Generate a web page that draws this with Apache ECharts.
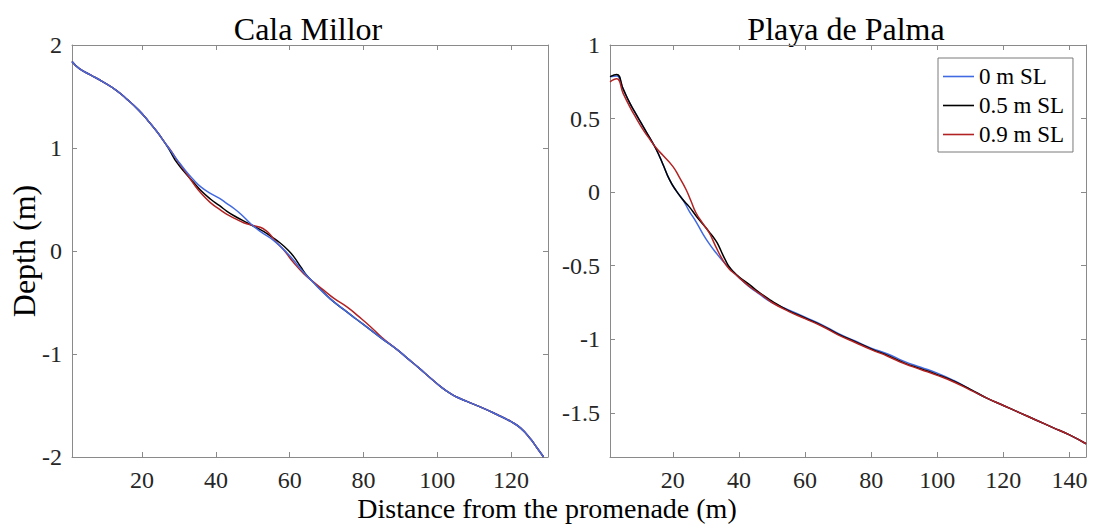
<!DOCTYPE html>
<html>
<head>
<meta charset="utf-8">
<script src="https://cdn.jsdelivr.net/npm/echarts@6/dist/echarts.min.js"></script>
<style>
html,body{margin:0;padding:0;background:#fff;}
#chart{width:1094px;height:530px;}
</style>
</head>
<body>
<div id="chart"></div>
<script>
// ---------- DATA ----------
const titles = ['Cala Millor', 'Playa de Palma'];
const seriesNames = ['0 m SL', '0.5 m SL', '0.9 m SL'];
const xLabel = 'Distance from the promenade (m)';
const yLabel = 'Depth (m)';

// Cala Millor
const cmX0 = [1,3,6,9.5,13,16,19,21.5,24,26,28,29.5,32,34,36,38.5,41,43,45,47,49.3,52,55.7,59.3,62,64,66.4,68.3,71,74.7,78,81.9,85,89.2,92,95,98.2,101,103.6,106,108,112.7,116,119.9,122.6,125.4,127,128.8];
const cmY0 = [1.84,1.77,1.71,1.64,1.56,1.47,1.37,1.27,1.16,1.06,0.96,0.885,0.77,0.69,0.62,0.56,0.51,0.46,0.41,0.35,0.27,0.19,0.10,-0.02,-0.13,-0.215,-0.305,-0.375,-0.465,-0.57,-0.66,-0.765,-0.85,-0.96,-1.045,-1.135,-1.235,-1.32,-1.385,-1.43,-1.46,-1.53,-1.585,-1.655,-1.72,-1.83,-1.91,-2.0];
const cmX1 = [1,3,6,9.5,13,16,19,21.5,24,26,27.5,29.4,32,34,36,38.5,41,43,45.5,48.4,50,52.9,55,57.5,59.5,61.1,63,64.7,66.5,68.3,71,74.7,78,81.9,85,89.2,92,95,98.2,101,103.6,106,108,112.7,116,119.9,122.6,125.4,127,128.8];
const cmY1 = [1.84,1.77,1.71,1.64,1.56,1.47,1.37,1.27,1.16,1.06,0.975,0.86,0.745,0.665,0.585,0.505,0.44,0.385,0.33,0.275,0.245,0.19,0.14,0.075,0.01,-0.055,-0.155,-0.24,-0.305,-0.37,-0.465,-0.57,-0.66,-0.765,-0.85,-0.96,-1.045,-1.135,-1.235,-1.32,-1.385,-1.43,-1.46,-1.53,-1.585,-1.655,-1.72,-1.83,-1.91,-2.0];
const cmX2 = [1,3,6,9.5,13,16,19,21.5,24,26,28,29.5,32,34,36,38.5,41,43,45.5,47.5,50,52,53.5,54.8,56.5,58.4,61,63.8,66.4,69.2,72,75.6,78.5,81.9,85,89.2,92,95,98.2,101,103.6,106,108,112.7,116,119.9,122.6,125.4,127,128.8];
const cmY2 = [1.84,1.77,1.71,1.64,1.56,1.47,1.37,1.27,1.16,1.06,0.965,0.88,0.755,0.65,0.56,0.47,0.405,0.355,0.31,0.275,0.248,0.23,0.20,0.155,0.08,0.01,-0.11,-0.22,-0.30,-0.38,-0.46,-0.545,-0.63,-0.735,-0.84,-0.96,-1.045,-1.135,-1.235,-1.32,-1.385,-1.43,-1.46,-1.53,-1.585,-1.655,-1.72,-1.83,-1.91,-2.0];

// Playa de Palma
const ppX0 = [1,3,5,7,9,11,13,15,17,19,21,23,25,27,29,31,33,35,37,40,43,46,50,55,60,65,70,75,80,85,90,95,100,105,110,115,120,125,130,135,140,145];
const ppY0 = [0.785,0.79,0.70,0.605,0.525,0.447,0.37,0.29,0.19,0.085,0.01,-0.05,-0.13,-0.20,-0.28,-0.35,-0.41,-0.465,-0.51,-0.58,-0.64,-0.69,-0.75,-0.80,-0.85,-0.90,-0.96,-1.01,-1.06,-1.10,-1.15,-1.19,-1.23,-1.28,-1.34,-1.40,-1.45,-1.50,-1.55,-1.60,-1.65,-1.71];
const ppX1 = [1,3,5,7,9,11,13,15,17,19,21,23,25,27,29,31,33,34,35,36,37,38.5,40,43,46,50,55,60,65,70,75,80,85,90,95,100,105,110,115,120,125,130,135,140,145];
const ppY1 = [0.785,0.80,0.70,0.605,0.525,0.447,0.37,0.29,0.19,0.085,0.01,-0.05,-0.10,-0.16,-0.215,-0.27,-0.33,-0.37,-0.42,-0.465,-0.505,-0.545,-0.575,-0.625,-0.68,-0.74,-0.805,-0.855,-0.905,-0.965,-1.015,-1.065,-1.11,-1.16,-1.20,-1.24,-1.285,-1.34,-1.40,-1.45,-1.50,-1.55,-1.60,-1.65,-1.71];
const ppX2 = [1,3,5,7,9,11,13,15,17,20,22,24,25.5,27,29,31,33,35,37,39,41,44,47,50,55,60,65,70,75,80,85,90,95,100,105,110,115,120,125,130,135,140,145];
const ppY2 = [0.75,0.77,0.67,0.58,0.50,0.425,0.36,0.30,0.25,0.175,0.10,0.018,-0.06,-0.14,-0.21,-0.276,-0.37,-0.457,-0.52,-0.56,-0.60,-0.655,-0.70,-0.75,-0.81,-0.86,-0.91,-0.97,-1.02,-1.07,-1.115,-1.165,-1.205,-1.245,-1.29,-1.345,-1.40,-1.45,-1.50,-1.55,-1.60,-1.65,-1.71];

// axis ranges and ticks
const cmXRange = [1, 130];
const ppXRange = [1, 145];
const cmYRange = [-2, 2];
const ppYRange = [-1.8, 1];
const cmXTicks = [20,40,60,80,100,120];
const ppXTicks = [20,40,60,80,100,120,140];
const cmYTicks = [-2,-1,0,1,2];
const ppYTicks = [-1.5,-1,-0.5,0,0.5,1];

// ---------- STYLE ----------
const FONT = '"Liberation Serif", "DejaVu Serif", serif';
const colors = ['#4169e1', '#000000', '#b22222'];
const axisColor = '#8a8a8a';

const zip = (xs, ys) => xs.map((x, i) => [x, ys[i]]);

function xAx(grid, range, ticks, pos, showLabel) {
  return {
    type: 'value', gridIndex: grid, position: pos, min: range[0], max: range[1],
    axisLine: { show: true, onZero: false, lineStyle: { color: axisColor, width: 1 } },
    axisTick: { show: true, inside: true, length: 5, customValues: ticks, lineStyle: { color: axisColor } },
    axisLabel: { show: showLabel, customValues: ticks, margin: 11, color: '#262626', fontFamily: FONT, fontSize: 24 },
    splitLine: { show: false }
  };
}
function yAx(grid, range, ticks, pos, showLabel) {
  return {
    type: 'value', gridIndex: grid, position: pos, min: range[0], max: range[1],
    axisLine: { show: true, onZero: false, lineStyle: { color: axisColor, width: 1 } },
    axisTick: { show: true, inside: true, length: 5, customValues: ticks, lineStyle: { color: axisColor } },
    axisLabel: { show: showLabel, customValues: ticks, margin: 10, color: '#262626', fontFamily: FONT, fontSize: 24 },
    splitLine: { show: false }
  };
}
function line(name, data, xi, yi, color, z) {
  return {
    type: 'line', name: name, data: data, xAxisIndex: xi, yAxisIndex: yi,
    showSymbol: false, symbol: 'none', smooth: 0.5,
    lineStyle: { color: color, width: 1.5 }, itemStyle: { color: color },
    z: z, silent: true
  };
}

const chart = echarts.init(document.getElementById('chart'), null, { renderer: 'svg' });
chart.setOption({
  animation: false,
  backgroundColor: '#ffffff',
  grid: [
    { left: 72, top: 45, width: 476, height: 412 },
    { left: 610, top: 45, width: 476, height: 412 }
  ],
  xAxis: [
    xAx(0, cmXRange, cmXTicks, 'bottom', true),
    xAx(1, ppXRange, ppXTicks, 'bottom', true),
    xAx(0, cmXRange, cmXTicks, 'top', false),
    xAx(1, ppXRange, ppXTicks, 'top', false)
  ],
  yAxis: [
    yAx(0, cmYRange, cmYTicks, 'left', true),
    yAx(1, ppYRange, ppYTicks, 'left', true),
    yAx(0, cmYRange, cmYTicks, 'right', false),
    yAx(1, ppYRange, ppYTicks, 'right', false)
  ],
  legend: {
    data: seriesNames,
    orient: 'vertical',
    left: 938, top: 58,
    padding: [7, 9, 6, 5],
    itemGap: 6,
    itemWidth: 31, itemHeight: 1.6,
    icon: 'rect',
    backgroundColor: '#ffffff',
    borderColor: '#7a7a7a', borderWidth: 1, borderRadius: 0,
    textStyle: { fontFamily: FONT, fontSize: 23, color: '#000' },
    selectedMode: false
  },
  graphic: [
    { type: 'text', x: 308, y: 29, style: { text: titles[0], font: '32px ' + FONT, fill: '#000', textAlign: 'center', textVerticalAlign: 'middle' } },
    { type: 'text', x: 846, y: 29, style: { text: titles[1], font: '32px ' + FONT, fill: '#000', textAlign: 'center', textVerticalAlign: 'middle' } },
    { type: 'text', x: 547, y: 508, style: { text: xLabel, font: '28px ' + FONT, fill: '#000', textAlign: 'center', textVerticalAlign: 'middle' } },
    { type: 'text', x: 24, y: 251, rotation: Math.PI / 2, style: { text: yLabel, font: '32px ' + FONT, fill: '#000', textAlign: 'center', textVerticalAlign: 'middle' } }
  ],
  series: [
    line(seriesNames[1], zip(cmX1, cmY1), 0, 0, colors[1], 2),
    line(seriesNames[2], zip(cmX2, cmY2), 0, 0, colors[2], 3),
    line(seriesNames[0], zip(cmX0, cmY0), 0, 0, colors[0], 4),
    line(seriesNames[0], zip(ppX0, ppY0), 1, 1, colors[0], 2),
    line(seriesNames[1], zip(ppX1, ppY1), 1, 1, colors[1], 3),
    line(seriesNames[2], zip(ppX2, ppY2), 1, 1, colors[2], 4)
  ]
});
</script>
</body>
</html>
